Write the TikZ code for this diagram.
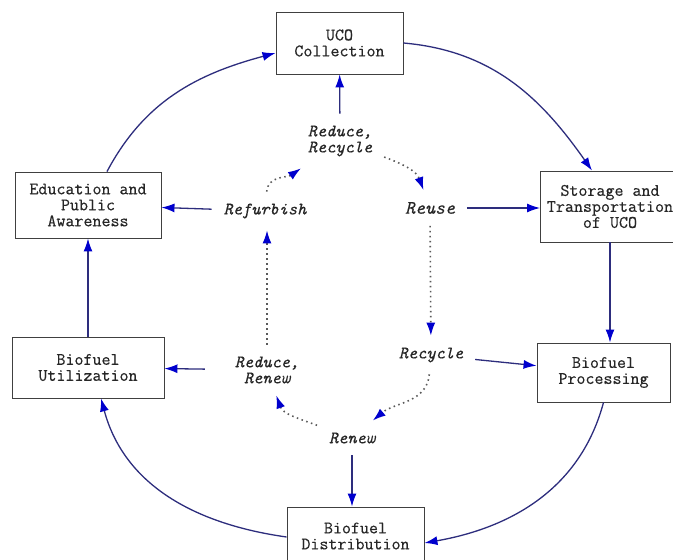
\documentclass[tikz,border=0pt]{standalone}
\usepackage{fontspec}
\newfontfamily\stagefont{Latin Modern Mono}[FakeBold=0.4]
\usetikzlibrary{arrows.meta}
\definecolor{ringnavy}{RGB}{45,45,125}
\definecolor{tipblue}{RGB}{0,0,205}

\begin{document}
\begin{tikzpicture}[
  x=1pt, y=1pt,
  stagebox/.style={draw=black!75, line width=0.9pt, fill=white, align=center, inner sep=2pt, text=black!85, font=\stagefont\fontsize{17.5}{16}\selectfont},
  actlabel/.style={align=center, inner sep=3pt, outer sep=9pt, text=black!85, font=\stagefont\itshape\fontsize{17.5}{16}\selectfont},
  flow/.style={-{Latex[length=13pt, width=9pt, color=tipblue]}, draw=ringnavy, line width=1.3pt},
  rloop/.style={-{Latex[length=13pt, width=9pt, color=tipblue]}, draw=black!65, line width=1.6pt, dash pattern=on 1.5pt off 3.5pt}
]
  \useasboundingbox (0,0) rectangle (673,560);

  \node[stagebox, minimum width=127pt, minimum height=62pt] (uco) at (339.5,517) {UCO\\Collection};
  \node[stagebox, minimum width=139pt, minimum height=71pt] (storage) at (610,353.5) {Storage and\\Transportation\\of UCO};
  \node[stagebox, minimum width=133pt, minimum height=59pt] (proc) at (603.5,187.5) {Biofuel\\Processing};
  \node[stagebox, minimum width=137pt, minimum height=58pt] (dist) at (355.5,24) {Biofuel\\Distribution};
  \node[stagebox, minimum width=152pt, minimum height=61pt] (util) at (88,192.5) {Biofuel\\Utilization};
  \node[stagebox, minimum width=146pt, minimum height=66pt] (edu) at (88,355) {Education and\\Public\\Awareness};

  \node[actlabel] (rr) at (340,419) {Reduce,\\Recycle};
  \node[actlabel, font=\stagefont\itshape\fontsize{19}{18}\selectfont] (reuse) at (430,352) {Reuse};
  \node[actlabel] (recyc) at (431,205) {Recycle};
  \node[actlabel] (renew) at (352,122) {Renew};
  \node[actlabel] (rrn) at (267,190) {Reduce,\\Renew};
  \node[actlabel] (refurb) at (265,349) {Refurbish};

  \draw[flow] (uco.east) to[out=-5, in=125] ([xshift=-18pt]storage.north);
  \draw[flow] (storage) -- (storage |- proc.north);
  \draw[flow] (proc.south) to[out=-105, in=10] ([yshift=-7pt]dist.east);
  \draw[flow] ([yshift=-1pt]dist.west) to[out=172, in=-75] ([xshift=13pt]util.south);
  \draw[flow] (util) -- (edu);
  \draw[flow] ([xshift=19pt]edu.north) to[out=62, in=195] ([yshift=-10pt]uco.west);

  \draw[flow] (rr) -- (uco);
  \draw[flow] (reuse) -- (storage.west |- reuse);
  \draw[flow] (recyc) -- (proc);
  \draw[flow] (renew) -- (renew |- dist.north);
  \draw[flow, shorten <=18pt] (rrn) -- (util);
  \draw[flow] (refurb) -- (edu);

  \draw[rloop] (rr) to[out=-20, in=110] (reuse);
  \draw[rloop] (reuse) -- (recyc);
  \draw[rloop] (recyc) to[out=-95, in=40] (renew);
  \draw[rloop] (renew) to[out=160, in=-70] (rrn);
  \draw[rloop] (rrn) -- (rrn |- refurb.south);
  \draw[rloop] (refurb) to[out=85, in=215] (rr);
\end{tikzpicture}
\end{document}
